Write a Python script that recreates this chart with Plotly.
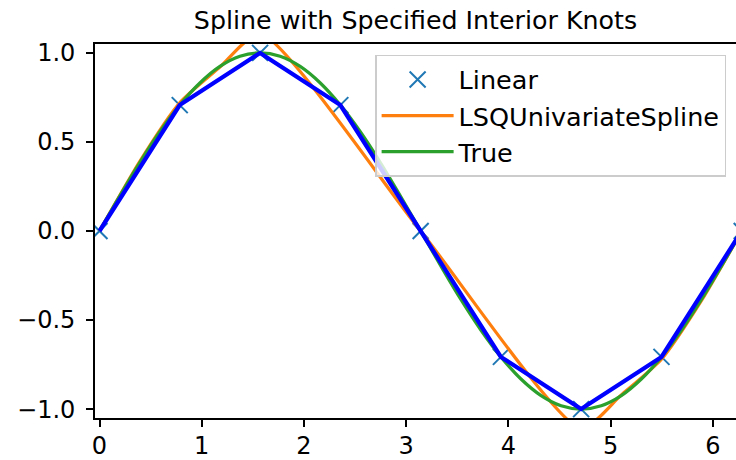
import plotly.graph_objects as go

# Sample points (linear interpolation data)
x_pts = [0.0, 0.785, 1.571, 2.356, 3.142, 3.927, 4.712, 5.498, 6.283]
y_pts = [0.0, 0.707, 1.0, 0.707, 0.0, -0.707, -1.0, -0.707, 0.0]

# LSQUnivariateSpline
x_spl = [0.0, 0.393, 0.785, 1.178, 1.571, 3.142, 4.712, 5.105, 5.498, 5.890, 6.283]
y_spl = [0.0, 0.39, 0.72, 0.92, 1.11, 0.0, -1.11, -0.92, -0.72, -0.39, 0.0]

# True curve
x_true = [0.0, 0.196, 0.393, 0.589, 0.785, 0.982, 1.178, 1.374, 1.571, 1.767, 1.963,
          2.160, 2.356, 2.553, 2.749, 2.945, 3.142, 3.338, 3.534, 3.731, 3.927, 4.123,
          4.320, 4.516, 4.712, 4.909, 5.105, 5.301, 5.498, 5.694, 5.890, 6.087, 6.283]
y_true = [0.0, 0.195, 0.383, 0.556, 0.707, 0.831, 0.924, 0.981, 1.0, 0.981, 0.924,
          0.831, 0.707, 0.556, 0.383, 0.195, 0.0, -0.195, -0.383, -0.556, -0.707, -0.831,
          -0.924, -0.981, -1.0, -0.981, -0.924, -0.831, -0.707, -0.556, -0.383, -0.195, 0.0]

x_ticks = [0, 1, 2, 3, 4, 5, 6]
y_ticks = [-1.0, -0.5, 0.0, 0.5, 1.0]

FONT = "DejaVu Sans"

fig = go.Figure()
fig.add_trace(go.Scatter(
    x=x_pts, y=y_pts, mode="markers", name="Linear", legendgroup="a",
    marker=dict(symbol="x-thin", size=16, line=dict(color="#1f77b4", width=2), color="#1f77b4"),
))
fig.add_trace(go.Scatter(
    x=x_spl, y=y_spl, mode="lines", name="LSQUnivariateSpline", legendgroup="b",
    line=dict(color="#ff7f0e", width=3.2, shape="spline", smoothing=0.6),
))
fig.add_trace(go.Scatter(
    x=x_true, y=y_true, mode="lines", name="True", legendgroup="c",
    line=dict(color="#2ca02c", width=3.2, shape="spline"),
))
fig.add_trace(go.Scatter(
    x=x_pts, y=y_pts, mode="lines", showlegend=False,
    line=dict(color="#0000ff", width=4.2),
))

fig.update_layout(
    width=736, height=460,
    margin=dict(l=95, r=0, t=44, b=42),
    paper_bgcolor="white", plot_bgcolor="white",
    font=dict(family=FONT, size=24, color="black"),
    title=dict(text="Spline with Specified Interior Knots", x=0.5, xref="paper",
               xanchor="center", y=0.957, yref="container", yanchor="middle",
               font=dict(family=FONT, size=25.3, color="black")),
    legend=dict(x=0.437, y=0.971, xanchor="left", yanchor="top",
                bgcolor="rgba(255,255,255,0.8)", bordercolor="#cccccc", borderwidth=1.5,
                font=dict(family=FONT, size=25.5, color="black"),
                tracegroupgap=0, itemwidth=72),
    showlegend=True,
)
fig.update_xaxes(
    range=[-0.044, 6.227], tickvals=x_ticks, ticktext=[str(v) for v in x_ticks],
    showline=True, linecolor="black", linewidth=1.8, mirror=True,
    ticks="outside", ticklen=7, tickwidth=1.5, tickcolor="black",
    showgrid=False, zeroline=False, ticklabelstandoff=-2, automargin=False,
)
fig.update_yaxes(
    range=[-1.05, 1.05], tickvals=y_ticks, tickformat=".1f",
    showline=True, linecolor="black", linewidth=1.8, mirror=False,
    ticks="outside", ticklen=7, tickwidth=1.5, tickcolor="black",
    showgrid=False, zeroline=False, ticklabelstandoff=6, automargin=False,
)

fig.write_html("out.html", config={"displayModeBar": False},
               post_script="document.body.style.margin='0';document.body.style.overflow='hidden';")
